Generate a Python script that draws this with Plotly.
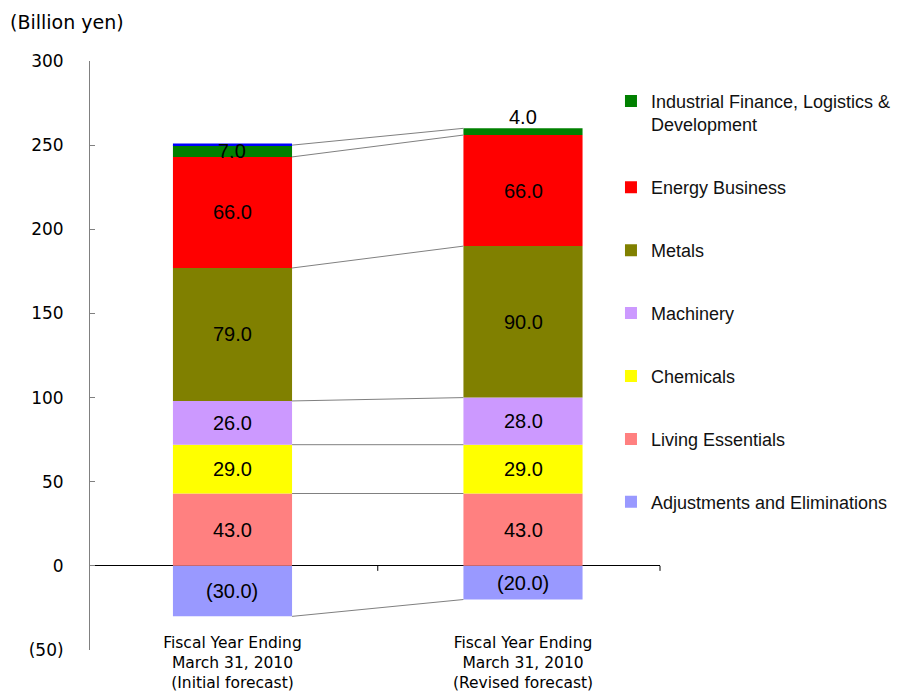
import plotly.graph_objects as go

categories = ["Fiscal Year Ending<br>March 31, 2010<br>(Initial forecast)",
              "Fiscal Year Ending<br>March 31, 2010<br>(Revised forecast)"]

# series listed bottom to top of the stack
series_names = ["Adjustments and Eliminations", "Living Essentials", "Chemicals",
                "Machinery", "Metals", "Energy Business",
                "Industrial Finance, Logistics &<br>Development"]
series_values = [
    [-30.0, -20.0],
    [43.0, 43.0],
    [29.0, 29.0],
    [26.0, 28.0],
    [79.0, 90.0],
    [66.0, 66.0],
    [7.0, 4.0],
]
series_colors = ["#9999FF", "#FF8080", "#FFFF00", "#CC99FF", "#808000", "#FF0000", "#008000"]

other_name = "Others"
other_values = [1.0, 0.0]
other_color = "#0000FF"

y_tickvals = [-50, 0, 50, 100, 150, 200, 250, 300]
y_ticktext = ["(50)", "0", "50", "100", "150", "200", "250", "300"]

BAR_W = 0.41
LABEL_FONT = dict(family="Liberation Sans, Arial, sans-serif", size=20, color="black")

fig = go.Figure()
ns = len(series_names)
for k, (name, vals, col) in enumerate(zip(series_names, series_values, series_colors)):
    fig.add_trace(go.Bar(x=categories, y=vals, name=name, marker_color=col,
                         marker_line_width=0, width=BAR_W, legendgroup=name,
                         legendrank=(ns - k) * 10))
fig.add_trace(go.Bar(x=categories, y=other_values, name=other_name, marker_color=other_color,
                     marker_line_width=0, width=BAR_W, showlegend=False, hoverinfo="skip"))

def fmt(v):
    return f"({abs(v):.1f})" if v < 0 else f"{v:.1f}"

annotations = []
shapes = []
n = len(categories)
pos_base = [0.0] * n
neg_base = [0.0] * n
tops = []  # per series, per category top edge
for name, vals in zip(series_names, series_values):
    seg_tops = []
    for i, v in enumerate(vals):
        if v < 0:
            bottom, top = neg_base[i] + v, neg_base[i]
            neg_base[i] = bottom
            seg_tops.append(bottom)
        else:
            bottom, top = pos_base[i], pos_base[i] + v
            pos_base[i] = top
            seg_tops.append(top)
        annotations.append(dict(x=i, y=(bottom + top) / 2, xref="x", yref="y", text=fmt(v),
                                showarrow=False, font=LABEL_FONT, yanchor="middle"))
    tops.append(seg_tops)

# labels of tiny top segments sit above the stack
total_top = [pos_base[i] + other_values[i] for i in range(n)]
last_vals = series_values[-1]
for i, v in enumerate(last_vals):
    if v < 5:
        for a in annotations:
            if a["x"] == i and a["text"] == fmt(v):
                a["y"] = total_top[i]
                a["yanchor"] = "bottom"
                a["yshift"] = -2

# connector lines between bars
for seg_tops in tops:
    for i in range(n - 1):
        shapes.append(dict(type="line", xref="x", yref="y",
                           x0=i + BAR_W / 2, x1=i + 1 - BAR_W / 2,
                           y0=seg_tops[i], y1=seg_tops[i + 1],
                           line=dict(color="#808080", width=1), layer="above"))

# category-boundary ticks on the zero line
for xb in [i + 0.5 for i in range(n - 1)]:
    shapes.append(dict(type="line", xref="x", yref="y", ysizemode="pixel", yanchor=0,
                       x0=xb, x1=xb, y0=0, y1=-5, line=dict(color="black", width=1)))
shapes.append(dict(type="line", xref="x domain", yref="y", ysizemode="pixel", yanchor=0,
                   x0=1, x1=1, y0=0, y1=-5, line=dict(color="black", width=1)))

annotations.append(dict(x=-0.144, y=1.0633, xref="paper", yref="paper",
                        text="(Billion yen)", showarrow=False, xanchor="left", yanchor="middle",
                        font=dict(family="DejaVu Sans, sans-serif", size=19, color="black")))

fig.update_layout(
    barmode="relative",
    width=898, height=689,
    margin=dict(l=82, r=246, t=53, b=20, autoexpand=False),
    paper_bgcolor="white", plot_bgcolor="white",
    font=dict(family="Liberation Sans, Arial, sans-serif", color="black"),
    showlegend=True,
    legend=dict(x=0.914, y=0.9646, xanchor="left", yanchor="top",
                traceorder="grouped", tracegroupgap=36.5, valign="top",
                font=dict(family="Liberation Sans, Arial, sans-serif", size=18, color="#111111"),
                bgcolor="rgba(0,0,0,0)"),
    xaxis=dict(type="category", range=[-0.4905, 1.4716], anchor="free", position=0.074,
               showline=False, ticks="", showgrid=False, automargin=False,
               tickfont=dict(family="DejaVu Sans, sans-serif", size=15.5, color="black")),
    yaxis=dict(range=[-50, 300], domain=[0.0438, 1], tickvals=y_tickvals, ticktext=y_ticktext,
               showgrid=False, zeroline=True, zerolinecolor="black", zerolinewidth=1,
               showline=True, linecolor="#808080", linewidth=1, automargin=False,
               ticks="inside", ticklen=5, tickcolor="#808080", ticklabelstandoff=22,
               tickfont=dict(family="DejaVu Sans, sans-serif", size=17, color="black")),
    annotations=annotations,
    shapes=shapes,
    bargap=0.59,
)

fig.write_html("out.html")
